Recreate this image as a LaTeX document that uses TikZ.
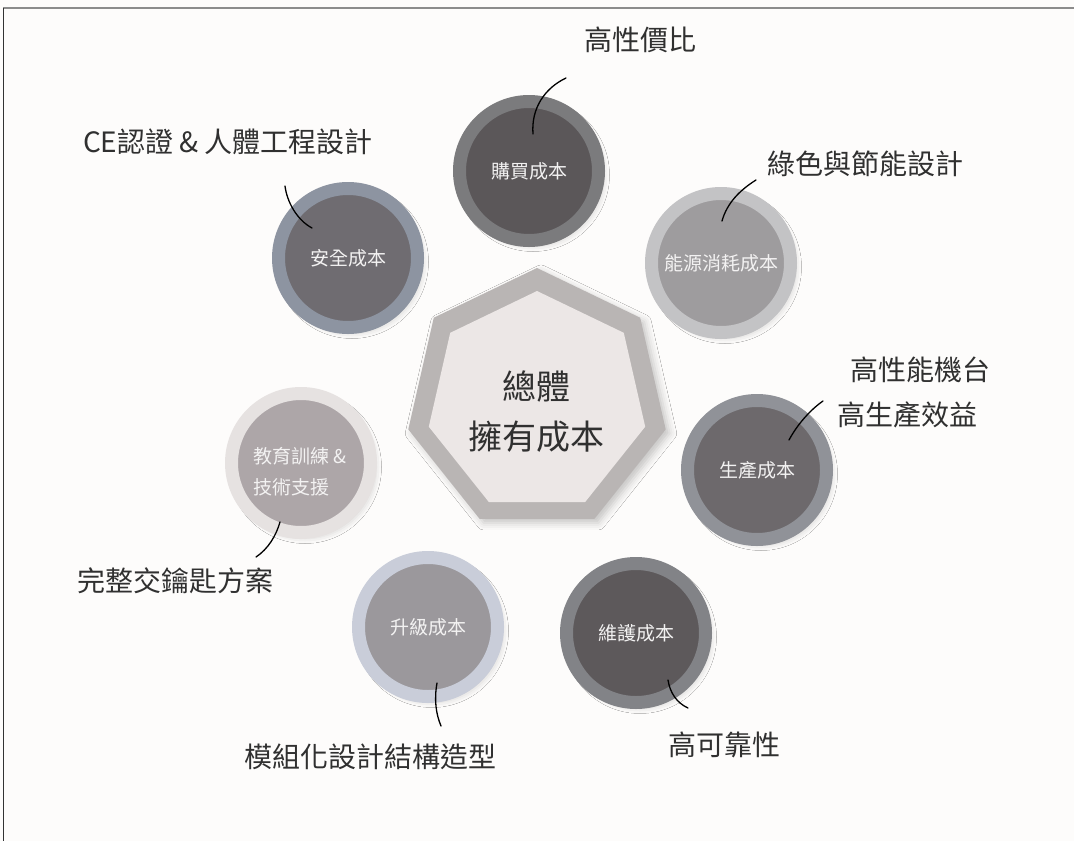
\documentclass[tikz,border=0pt]{standalone}
\usepackage{fontspec}
\newfontfamily\cjk{Noto Sans CJK TC}
\usetikzlibrary{shapes.geometric,shadows.blur}
\definecolor{bg}{HTML}{FDFCFB}
\definecolor{hand}{HTML}{303030}
\definecolor{lbl}{HTML}{F3F2F2}
\definecolor{buyO}{HTML}{7B7B7D}\definecolor{buyI}{HTML}{5B5759}
\definecolor{enO}{HTML}{C3C3C5}\definecolor{enI}{HTML}{9E9C9E}
\definecolor{safO}{HTML}{8D94A1}\definecolor{safI}{HTML}{6F6C71}
\definecolor{proO}{HTML}{909298}\definecolor{proI}{HTML}{6D696C}
\definecolor{upO}{HTML}{C9CDD9}\definecolor{upI}{HTML}{9B989C}
\definecolor{mtO}{HTML}{828387}\definecolor{mtI}{HTML}{5D595B}
\definecolor{edO}{HTML}{E6E2E1}\definecolor{edI}{HTML}{ADA6A8}
\definecolor{hepO}{HTML}{B9B5B4}\definecolor{hepI}{HTML}{ECE7E6}
\tikzset{
  costcircle/.style n args={2}{circle, minimum size=139pt, inner sep=0pt, outer sep=0pt,
     fill=#2, draw=#1, line width=13pt, text=lbl,
     font=\cjk\fontsize{19}{31}\selectfont,
     blur shadow={shadow xshift=4pt, shadow yshift=-4pt, shadow blur radius=7pt, shadow opacity=22}},
  handtext/.style={text=hand, inner sep=0pt, font=\cjk\fontsize{28}{34}\selectfont},
  leader/.style={draw=black, line width=1.3pt, line cap=round},
}
\begin{document}
\begin{tikzpicture}[x=1pt,y=-1pt]
\useasboundingbox (0,0) rectangle (1074,841);
\fill[bg] (0,0) rectangle (1074,841);
\draw[color=gray!90, line width=2pt] (3,8) -- (1074,8);
\draw[color=black!80, line width=1.2pt] (3.5,8) -- (3.5,841);

% central heptagon
\node[regular polygon, regular polygon sides=7, minimum size=264pt, inner sep=0pt,
      fill=hepO, blur shadow={shadow xshift=4pt, shadow yshift=-4pt, shadow blur radius=7pt, shadow opacity=22}] (hepout) at (537,400) {};
\node[regular polygon, regular polygon sides=7, minimum size=222pt, inner sep=0pt,
      fill=hepI] (hepin) at (537,402) {};
\node[text=hand, align=center, font=\cjk\fontsize{34}{50}\selectfont] (center) at (536,412) {總體\\擁有成本};

% cost circles
\node[costcircle={buyO}{buyI}] (buy) at (529,171) {購買成本};
\node[costcircle={enO}{enI}] (energy) at (721,263) {能源消耗成本};
\node[costcircle={safO}{safI}] (safe) at (348,258) {安全成本};
\node[costcircle={proO}{proI}] (prod) at (757,470) {生產成本};
\node[costcircle={upO}{upI}] (upg) at (428,627) {升級成本};
\node[costcircle={mtO}{mtI}] (maint) at (636,633) {維護成本};
\node[costcircle={edO}{edI}] (edu) at (301,463) {};
\node[anchor=west, align=left, text=lbl, inner sep=0pt, font=\cjk\fontsize{19}{31}\selectfont] (edutext) at (253,472) {教育訓練 \&\\技術支援};

% handwritten labels
\node[handtext] (l1) at (640,40) {高性價比};
\node[handtext] (l2) at (228,142) {CE認證 \& 人體工程設計};
\node[handtext] (l3) at (865,164) {綠色與節能設計};
\node[handtext] (l4a) at (920,370) {高性能機台};
\node[handtext] (l4b) at (907,415) {高生產效益};
\node[handtext] (l5) at (175,581) {完整交鑰匙方案};
\node[handtext] (l6) at (370,757) {模組化設計結構造型};
\node[handtext] (l7) at (724,745) {高可靠性};

% leader end points
\coordinate (b1) at (533,134); \coordinate (b2) at (566,78);
\coordinate (e1) at (722,221); \coordinate (e2) at (756,180);
\coordinate (s1) at (285,186); \coordinate (s2) at (312,228);
\coordinate (p1) at (789,440); \coordinate (p2) at (823,401);
\coordinate (d1) at (280,522); \coordinate (d2) at (256,557);
\coordinate (u1) at (437,683); \coordinate (u2) at (441,726);
\coordinate (m1) at (668,680); \coordinate (m2) at (688,708);

\draw[leader] (b1) .. controls (531,108) and (545,88) .. (b2);
\draw[leader] (e1) .. controls (727,203) and (740,190) .. (e2);
\draw[leader] (s1) .. controls (287,202) and (297,220) .. (s2);
\draw[leader] (p1) .. controls (797,425) and (810,410) .. (p2);
\draw[leader] (d1) .. controls (276,536) and (268,549) .. (d2);
\draw[leader] (u1) .. controls (434,700) and (436,714) .. (u2);
\draw[leader] (m1) .. controls (670,693) and (677,703) .. (m2);
\end{tikzpicture}
\end{document}
